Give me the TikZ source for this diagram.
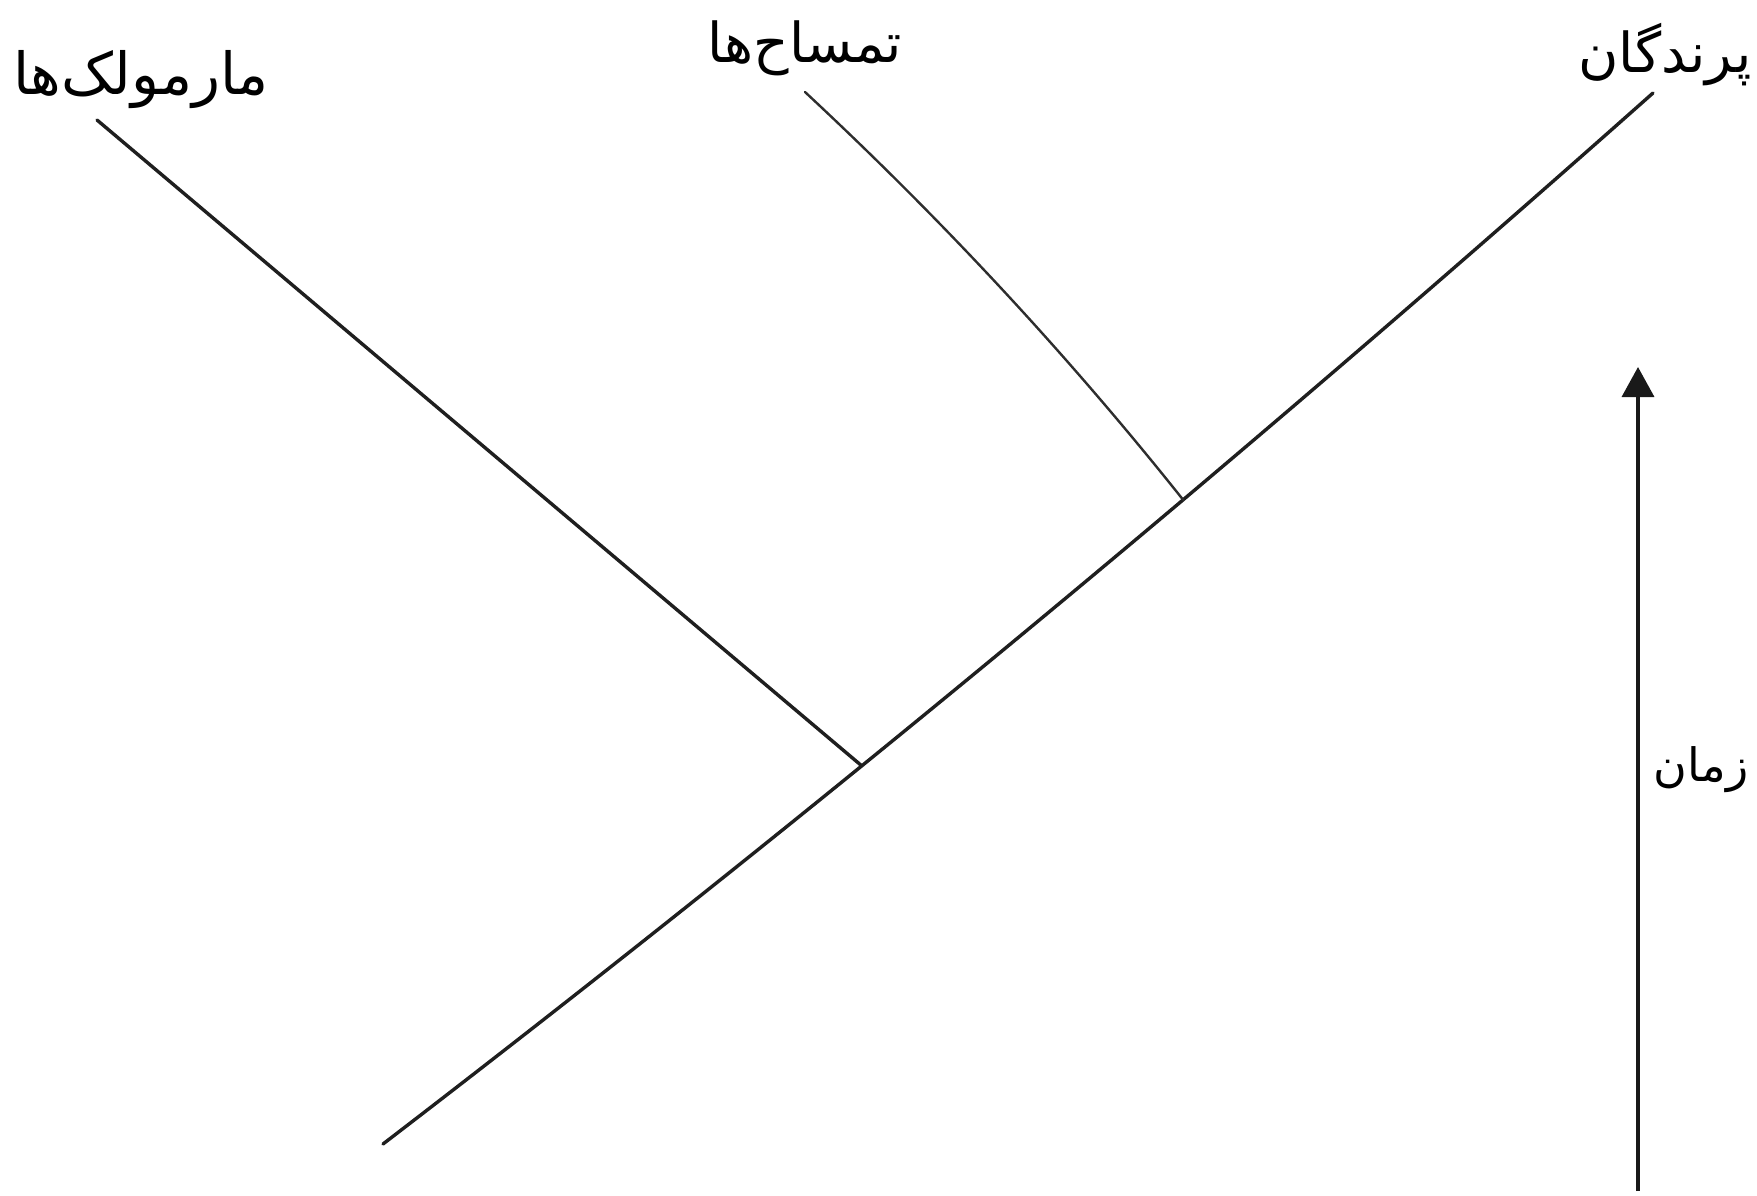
\documentclass[tikz,border=0pt]{standalone}
\usepackage{fontspec}
\newfontfamily\arabicfont[Script=Arabic]{DejaVu Sans}
\TeXXeTstate=1
\usetikzlibrary{arrows.meta}
\begin{document}
\begin{tikzpicture}[x=1pt,y=-1pt,
  branch/.style={line width=3.4pt,color=black!88,line cap=round,line join=round},
  thinbranch/.style={line width=2.4pt,color=black!82,line cap=round},
  lbl/.style={inner sep=0pt,font=\arabicfont}]
\useasboundingbox (0,0) rectangle (1757,1195);
% coordinates
\coordinate (root) at (383,1144);
\coordinate (birdtip) at (1653,93);
\coordinate (liztip) at (97,120);
\coordinate (croctip) at (805,92);
\coordinate (tbot) at (1638,1191);
\coordinate (ttop) at (1638,367);
% tree: main stem, with the two junctions on it
\draw[branch] (root) .. controls (806.3,819.3) and (1229.7,469) .. (birdtip)
  coordinate[pos=0.377] (j1) coordinate[pos=0.63] (j2);
\draw[branch] (j1) -- (liztip);
\draw[thinbranch] (j2) .. controls (1066.3,353) and (940.3,218) .. (croctip);
% time arrow
\draw[line width=3.6pt,color=black!90,-{Triangle[length=30pt,width=32pt]}] (tbot) -- (ttop);
% labels
\node[lbl,font=\arabicfont\fontsize{58}{64}\selectfont] (liz) at (141,80) {\beginR مارمولک‌ها\endR};
\node[lbl,font=\arabicfont\fontsize{55}{62}\selectfont] (croc) at (805,48) {\beginR تمساح‌ها\endR};
\node[lbl,font=\arabicfont\fontsize{55}{62}\selectfont] (bird) at (1665,55) {\beginR پرندگان\endR};
\node[lbl,font=\arabicfont\fontsize{46}{52}\selectfont] (time) at (1701,770) {\beginR زمان\endR};
\end{tikzpicture}
\end{document}
